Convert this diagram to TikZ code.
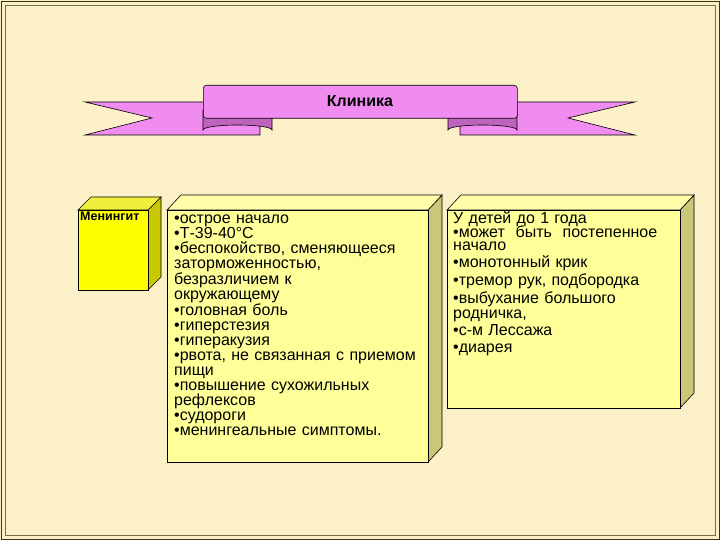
\documentclass[tikz,border=0pt]{standalone}
\usepackage{fontspec}
\setmainfont{Liberation Sans}
\begin{document}
\begin{tikzpicture}[x=1pt,y=-1pt,
  face/.style={draw=black,line width=0.6pt},
  txt/.style={anchor=north west,inner sep=0pt,align=left,font=\fontsize{16}{15}\selectfont}]
\useasboundingbox (0,0) rectangle (720,540);
\fill[fill={rgb,255:red,251;green,240;blue,200}] (0,0) rectangle (720,540);
\draw[line width=0.8pt,color={rgb,255:red,60;green,50;blue,20}] (1,1) rectangle (719,539);
\draw[line width=0.4pt,color={rgb,255:red,120;green,110;blue,70}] (5,5) rectangle (715,535);
% banner tails
\path[face,fill={rgb,255:red,240;green,140;blue,240}] (260,102) -- (85,102) -- (152,118) -- (85,135) -- (260,135) -- cycle;
\path[face,fill={rgb,255:red,240;green,140;blue,240}] (460,102) -- (635,102) -- (568,118) -- (635,135) -- (460,135) -- cycle;
% folds
\path[face,fill={rgb,255:red,190;green,100;blue,190}] (203,110) -- (272,110) -- (272,130) arc[start angle=0,end angle=-180,x radius=34.5,y radius=5] -- cycle;
\path[face,fill={rgb,255:red,190;green,100;blue,190}] (448,110) -- (517,110) -- (517,130) arc[start angle=0,end angle=-180,x radius=34.5,y radius=5] -- cycle;
% centre
\node[face,fill={rgb,255:red,240;green,140;blue,240},minimum width=314pt,minimum height=33pt,inner sep=0pt,rounded corners=3pt,anchor=north west] (banner) at (203,85) {};
\node[font=\bfseries\fontsize{16}{17}\selectfont] (title) at (360,101) {Клиника};
% Menigit box
\path[face,fill={rgb,255:red,200;green,200;blue,0}] (148,210) -- (161,197) -- (161,277) -- (148,290) -- cycle;
\path[face,fill={rgb,255:red,240;green,240;blue,60}] (78,210) -- (91,197) -- (161,197) -- (148,210) -- cycle;
\node[face,fill={rgb,255:red,255;green,255;blue,0},minimum width=70pt,minimum height=80pt,anchor=north west,inner sep=0pt] (men) at (78,210) {};
\node[anchor=north west,inner sep=0pt,font=\bfseries\fontsize{12.5}{13}\selectfont] (mentxt) at (80,212) {Менингит};
% middle box
\path[face,fill={rgb,255:red,200;green,200;blue,120}] (428,210) -- (442,195) -- (442,447) -- (428,462) -- cycle;
\path[face,fill={rgb,255:red,255;green,255;blue,170}] (167,210) -- (181,195) -- (442,195) -- (428,210) -- cycle;
\node[face,fill={rgb,255:red,255;green,255;blue,153},minimum width=261pt,minimum height=252pt,anchor=north west,inner sep=0pt] (mid) at (167,210) {};
\node[txt,text width=256pt] (midtxt) at (174,215) {•острое начало\\•Т-39-40°С\\•беспокойство, сменяющееся\\заторможенностью, безразличием к\\окружающему\\•головная боль\\•гиперстезия\\•гиперакузия\\•рвота, не связанная с приемом\\пищи\\•повышение сухожильных\\рефлексов\\•судороги\\•менингеальные симптомы.};
% right box
\path[face,fill={rgb,255:red,200;green,200;blue,120}] (680,210) -- (694,195) -- (694,393) -- (680,408) -- cycle;
\path[face,fill={rgb,255:red,255;green,255;blue,170}] (447,210) -- (461,195) -- (694,195) -- (680,210) -- cycle;
\node[face,fill={rgb,255:red,255;green,255;blue,153},minimum width=233pt,minimum height=198pt,anchor=north west,inner sep=0pt] (right) at (447,210) {};
\node[txt,text width=228pt] (righttxt) at (453,211) {У детей до 1 года\\[-1pt]•может\ \ быть\ \ постепенное\\[-2pt]начало\\[2pt]•монотонный крик\\[2pt]•тремор рук, подбородка\\[2pt]•выбухание большого\\родничка,\\[2pt]•с-м Лессажа\\[2pt]•диарея};
\end{tikzpicture}
\end{document}
